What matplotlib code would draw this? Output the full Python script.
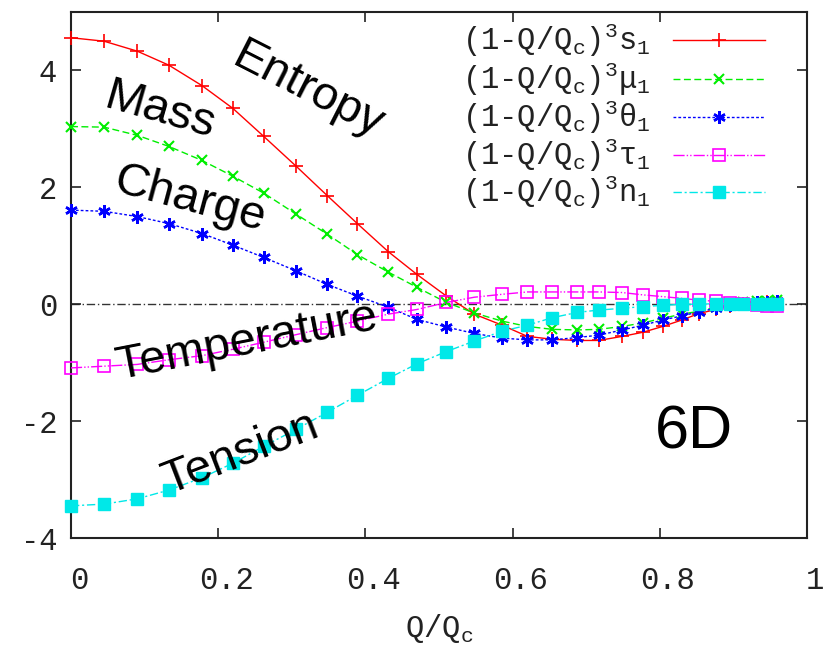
import matplotlib
matplotlib.use("Agg")
import matplotlib.pyplot as plt
import matplotlib.transforms as mtransforms
from matplotlib.lines import Line2D

plt.rcParams['axes.unicode_minus'] = False
plt.rcParams['mathtext.fontset'] = 'custom'
plt.rcParams['mathtext.rm'] = 'Liberation Mono'
plt.rcParams['mathtext.it'] = 'Liberation Mono'

# Q/Qc sample points
q = [0.000, 0.045, 0.090, 0.133, 0.178, 0.220, 0.262, 0.306, 0.348, 0.389,
     0.431, 0.470, 0.510, 0.548, 0.586, 0.620, 0.654, 0.688, 0.717, 0.749,
     0.777, 0.804, 0.830, 0.853, 0.876, 0.895, 0.913, 0.932, 0.946, 0.959]

entropy = [4.56, 4.50, 4.33, 4.09, 3.74, 3.35, 2.87, 2.36, 1.86, 1.38,
           0.90, 0.51, 0.14, -0.17, -0.36, -0.55, -0.60, -0.62, -0.62, -0.55,
           -0.48, -0.38, -0.27, -0.16, -0.09, -0.03, 0.00, 0.02, 0.03, 0.03]
mass = [3.04, 3.03, 2.89, 2.70, 2.46, 2.19, 1.90, 1.54, 1.20, 0.85,
        0.55, 0.29, 0.03, -0.15, -0.29, -0.38, -0.43, -0.44, -0.43, -0.38,
        -0.32, -0.24, -0.17, -0.12, -0.05, 0.00, 0.03, 0.05, 0.06, 0.07]
charge = [1.61, 1.59, 1.50, 1.38, 1.21, 1.01, 0.80, 0.57, 0.34, 0.14,
          -0.05, -0.26, -0.39, -0.50, -0.58, -0.61, -0.61, -0.57, -0.53, -0.44,
          -0.36, -0.27, -0.20, -0.13, -0.07, -0.02, 0.01, 0.03, 0.04, 0.05]
temperature = [-1.09, -1.06, -1.03, -0.95, -0.88, -0.77, -0.65, -0.52, -0.40, -0.29,
               -0.17, -0.09, 0.03, 0.12, 0.17, 0.21, 0.21, 0.21, 0.21, 0.20,
               0.16, 0.13, 0.10, 0.07, 0.05, 0.02, 0.00, -0.02, -0.03, -0.03]
tension = [-3.45, -3.42, -3.33, -3.18, -2.97, -2.72, -2.43, -2.14, -1.85, -1.56,
           -1.27, -1.02, -0.81, -0.63, -0.46, -0.36, -0.23, -0.14, -0.10, -0.07,
           -0.04, -0.02, 0.00, 0.00, 0.01, 0.01, 0.01, 0.00, 0.00, 0.00]

labels = [r'(1-Q/Q$_\mathrm{c}$)$^\mathrm{3}$s$_\mathrm{1}$',
          r'(1-Q/Q$_\mathrm{c}$)$^\mathrm{3}$μ$_\mathrm{1}$',
          r'(1-Q/Q$_\mathrm{c}$)$^\mathrm{3}$θ$_\mathrm{1}$',
          r'(1-Q/Q$_\mathrm{c}$)$^\mathrm{3}$τ$_\mathrm{1}$',
          r'(1-Q/Q$_\mathrm{c}$)$^\mathrm{3}$n$_\mathrm{1}$']
xticks = [0, 0.2, 0.4, 0.6, 0.8, 1]
xticklabels = ['0', '0.2', '0.4', '0.6', '0.8', '1']
yticks = [-4, -2, 0, 2, 4]

styles = [
    dict(color='#ff0000', ls='-', marker='+', ms=10, mew=1.2, mfc='#ff0000'),
    dict(color='#00ee00', ls=(0, (5, 2.5)), marker='x', ms=7, mew=1.5, mfc='#00ee00'),
    dict(color='#0000ff', ls=(0, (2, 1.5)), marker=(6, 2, 0), ms=9, mew=1.8, mfc='#0000ff'),
    dict(color='#ff00ff', ls=(0, (8, 1.5, 1, 1.5, 1, 1.5)), marker='s', ms=8, mew=1.2, mfc='none'),
    dict(color='#00e8e8', ls=(0, (6, 2, 1.5, 2)), marker='s', ms=9, mew=1, mfc='#00e8e8'),
]
series = [entropy, mass, charge, temperature, tension]

fig = plt.figure(figsize=(8.25, 6.53), dpi=100)
ax = fig.add_axes([71/825, 1-538/653, 736/825, 526/653])

ax.axhline(0, color='#333333', lw=1.0, ls=(0, (6, 2, 1, 2)), zorder=1)

for ys, st in zip(series, styles):
    ax.plot(q, ys, lw=1.0, mec=st['color'], clip_on=False, zorder=3, **st)

ax.set_xlim(0, 1)
ax.set_ylim(-4, 5)
ax.set_xticks(xticks)
ax.set_xticklabels(xticklabels)
ax.set_yticks(yticks)
ax.tick_params(direction='in', length=7, width=1.2, top=True, right=True,
               labelsize=22, colors='#222222', pad=10)
ax.tick_params(axis='x', pad=20)
for sp in ax.spines.values():
    sp.set_linewidth(1.5)
    sp.set_color('#222222')
for lbl in ax.get_xticklabels() + ax.get_yticklabels():
    lbl.set_fontfamily('Liberation Mono')
offset = mtransforms.ScaledTranslation(8/100, 0, fig.dpi_scale_trans)
for lbl in ax.get_xticklabels():
    lbl.set_transform(lbl.get_transform() + offset)

ax.set_xlabel(r'Q/Q$_\mathrm{c}$', fontsize=22, family='Liberation Mono',
              color='#222222', labelpad=12)

# key, drawn by hand so text is right aligned like gnuplot
rows = [0.947, 0.873, 0.800, 0.728, 0.658]
for yk, lab, st in zip(rows, labels, styles):
    ax.text(0.787, yk, lab, transform=ax.transAxes, ha='right', va='center',
            fontsize=22, family='Liberation Mono', color='#222222')
    ax.add_line(Line2D([0.818, 0.943], [yk, yk], transform=ax.transAxes,
                       color=st['color'], ls=st['ls'], lw=1.0))
    ax.add_line(Line2D([0.880], [yk], transform=ax.transAxes, color=st['color'],
                       marker=st['marker'], ms=st['ms'], mew=st['mew'],
                       mfc=st['mfc'], mec=st['color'], ls='none'))

# curve names
lab_kw = dict(fontsize=34, family='Liberation Sans', ha='center', va='center',
              rotation_mode='anchor', color='black', zorder=5)
ax.text(0.322, 3.66, 'Entropy', rotation=-27, **lab_kw)
ax.text(0.121, 3.30, 'Mass', rotation=-16, **lab_kw)
ax.text(0.162, 1.79, 'Charge', rotation=-15, **lab_kw)
ax.text(0.239, -0.65, 'Temperature', rotation=11, **lab_kw)
ax.text(0.231, -2.56, 'Tension', rotation=21, **lab_kw)
ax.text(0.847, -2.21, '6D', fontsize=44, family='Liberation Sans',
        ha='center', va='center', color='black')

fig.savefig('out.png', dpi=100)
